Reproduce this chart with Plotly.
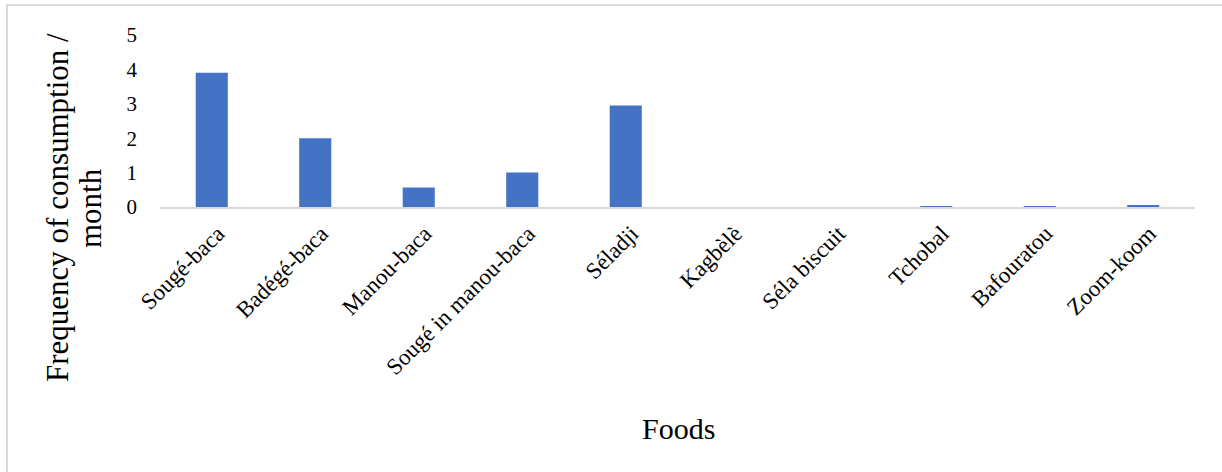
import plotly.graph_objects as go

foods = ["Sougé-baca", "Badégé-baca", "Manou-baca", "Sougé in manou-baca", "Séladji",
         "Kagbèlè", "Séla biscuit", "Tchobal", "Bafouratou", "Zoom-koom"]
frequency = [3.9, 2.0, 0.57, 1.0, 2.95, 0.0, 0.0, 0.02, 0.02, 0.06]
y_ticks = [0, 1, 2, 3, 4, 5]

W, H = 1222, 472
ML, MR, MT, MB = 160, 27, 35, 265
PW = W - ML - MR
PH = H - MT - MB

def px(x):
    return (x - ML) / PW

def py(y):
    return (H - MB - y) / PH

FONT = "Liberation Serif"

fig = go.Figure(go.Bar(
    x=foods, y=frequency, width=0.31,
    marker=dict(color="#4472C4", line=dict(width=0)),
))

fig.update_layout(
    width=W, height=H,
    margin=dict(l=ML, r=MR, t=MT, b=MB),
    paper_bgcolor="white", plot_bgcolor="white",
    showlegend=False,
    font=dict(family=FONT, color="black", size=21),
    xaxis=dict(
        tickangle=-45, showgrid=False, showline=True, linecolor="#d9d9d9",
        linewidth=2, ticks="", ticklabelstandoff=2, ticklabelshift=6,
        tickfont=dict(size=23, family=FONT, color="black"),
    ),
    yaxis=dict(
        range=[0, 5], tickvals=y_ticks, showgrid=False, zeroline=False,
        showline=False, ticks="", ticklabelstandoff=22,
        tickfont=dict(size=21, family=FONT, color="black"),
    ),
    shapes=[dict(type="rect", xref="paper", yref="paper",
                 x0=px(7), x1=px(W + 300), y0=py(H + 300), y1=py(5),
                 line=dict(color="#d9d9d9", width=2), fillcolor="rgba(0,0,0,0)",
                 layer="below")],
    annotations=[
        dict(text="Frequency of consumption /", xref="paper", yref="paper",
             x=px(57), y=py(208), textangle=-90, showarrow=False,
             xanchor="center", yanchor="middle",
             font=dict(size=31, family=FONT, color="black")),
        dict(text="month", xref="paper", yref="paper",
             x=px(90), y=py(208), textangle=-90, showarrow=False,
             xanchor="center", yanchor="middle",
             font=dict(size=31, family=FONT, color="black")),
        dict(text="Foods", xref="paper", yref="paper",
             x=px(678), y=py(428), showarrow=False,
             xanchor="center", yanchor="middle",
             font=dict(size=30, family=FONT, color="black")),
    ],
)

fig.write_html("out.html")
